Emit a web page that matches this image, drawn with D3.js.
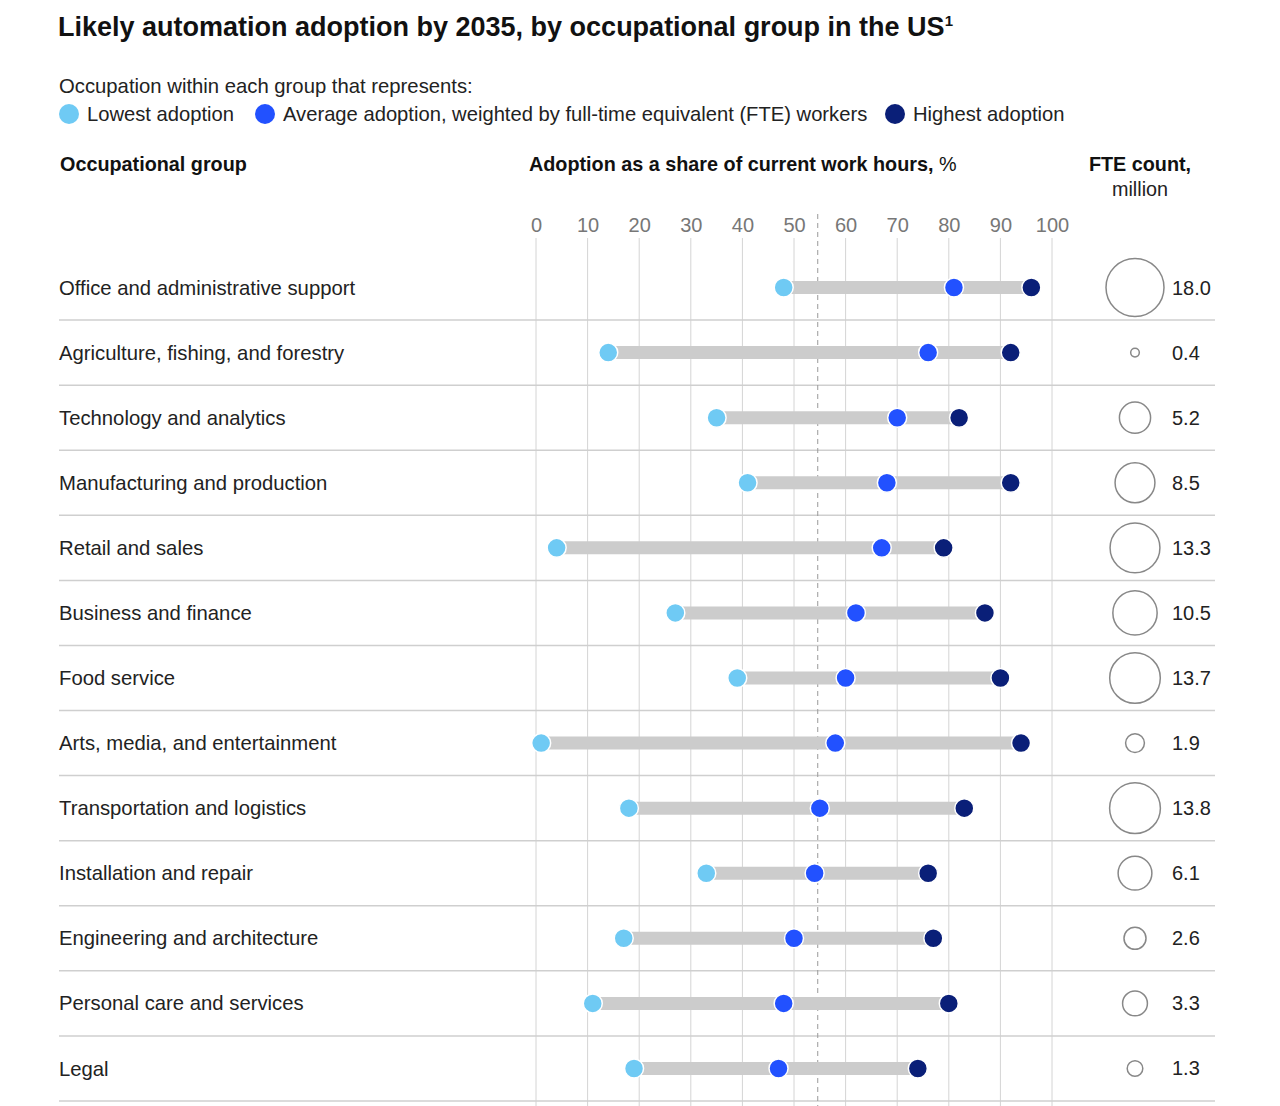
<!DOCTYPE html>
<html>
<head>
<meta charset="utf-8">
<script src="https://cdn.jsdelivr.net/npm/d3@7"></script>
<style>
  body { margin: 0; background: #fff; }
  svg { font-family: "Liberation Sans", Arial, sans-serif; }
  .tick text { fill: #777; font-size: 20px; }
</style>
</head>
<body>
<svg width="1280" height="1106"></svg>
<script>
// data
var groups = [
  'Office and administrative support',
  'Agriculture, fishing, and forestry',
  'Technology and analytics',
  'Manufacturing and production',
  'Retail and sales',
  'Business and finance',
  'Food service',
  'Arts, media, and entertainment',
  'Transportation and logistics',
  'Installation and repair',
  'Engineering and architecture',
  'Personal care and services',
  'Legal'
];
var lowest  = [48, 14, 35, 41, 4, 27, 39, 1, 18, 33, 17, 11, 19];
var average = [81, 76, 70, 68, 67, 62, 60, 58, 55, 54, 50, 48, 47];
var highest = [96, 92, 82, 92, 79, 87, 90, 94, 83, 76, 77, 80, 74];
var fte     = [18.0, 0.4, 5.2, 8.5, 13.3, 10.5, 13.7, 1.9, 13.8, 6.1, 2.6, 3.3, 1.3];
var overallAvg = 54.6;
var xTicks = [0, 10, 20, 30, 40, 50, 60, 70, 80, 90, 100];

var colLow = '#6fcaf4', colAvg = '#2251ff', colHigh = '#0a1f78';

var svg = d3.select('svg');

var rows = groups.map(function(g, i) {
  return {name: g, low: lowest[i], avg: average[i], high: highest[i], fte: fte[i]};
});

var xScale = d3.scaleLinear().domain([0, 100]).range([536, 1052]);
var yScale = d3.scaleBand().domain(groups).range([255, 1101]);
var rScale = d3.scaleSqrt().domain([0, 18]).range([0, 29]);

// title
var title = svg.append('text')
  .attr('x', 58).attr('y', 36)
  .style('font-size', '27px').style('font-weight', 'bold').style('fill', '#111')
  .text('Likely automation adoption by 2035, by occupational group in the US');
title.append('tspan').attr('dy', -10).style('font-size', '15px').text('1');

// legend
svg.append('text')
  .attr('x', 59).attr('y', 93)
  .style('font-size', '20.3px').style('fill', '#222')
  .text('Occupation within each group that represents:');

var legend = [
  {label: 'Lowest adoption', color: colLow, x: 69},
  {label: 'Average adoption, weighted by full-time equivalent (FTE) workers', color: colAvg, x: 265},
  {label: 'Highest adoption', color: colHigh, x: 895}
];
var lg = svg.selectAll('.legend')
  .data(legend)
  .enter()
  .append('g')
  .attr('class', 'legend');
lg.append('circle')
  .attr('cx', function(d) { return d.x; })
  .attr('cy', 114)
  .attr('r', 10)
  .style('fill', function(d) { return d.color; });
lg.append('text')
  .attr('x', function(d) { return d.x + 18; })
  .attr('y', 121)
  .style('font-size', '20.2px').style('fill', '#222')
  .text(function(d) { return d.label; });

// column headers
svg.append('text')
  .attr('x', 60).attr('y', 171)
  .style('font-size', '19.8px').style('font-weight', 'bold').style('fill', '#111')
  .text('Occupational group');

var hdr = svg.append('text')
  .attr('x', 529).attr('y', 171)
  .style('font-size', '19.8px').style('fill', '#111');
hdr.append('tspan').style('font-weight', 'bold').text('Adoption as a share of current work hours,');
hdr.append('tspan').text(' %');

svg.append('text')
  .attr('x', 1140).attr('y', 171)
  .attr('text-anchor', 'middle')
  .style('font-size', '19.8px').style('font-weight', 'bold').style('fill', '#111')
  .text('FTE count,');
svg.append('text')
  .attr('x', 1140).attr('y', 196)
  .attr('text-anchor', 'middle')
  .style('font-size', '19.8px').style('fill', '#222')
  .text('million');

// x axis labels on top
var axis = svg.append('g')
  .attr('class', 'x axis')
  .attr('transform', 'translate(0,232)')
  .call(d3.axisTop(xScale).tickValues(xTicks).tickSize(0).tickPadding(0));
axis.select('.domain').remove();

// vertical gridlines
svg.selectAll('.grid')
  .data(xTicks)
  .enter()
  .append('line')
  .attr('class', 'grid')
  .attr('x1', function(d) { return xScale(d); })
  .attr('x2', function(d) { return xScale(d); })
  .attr('y1', 238)
  .attr('y2', 1106)
  .style('stroke', '#d4d4d4')
  .style('stroke-width', 1);

// row separators
svg.selectAll('.sep')
  .data(groups)
  .enter()
  .append('line')
  .attr('class', 'sep')
  .attr('x1', 59).attr('x2', 1215)
  .attr('y1', function(d) { return yScale(d) + yScale.bandwidth(); })
  .attr('y2', function(d) { return yScale(d) + yScale.bandwidth(); })
  .style('stroke', '#cfcfcf')
  .style('stroke-width', 1.5);

// overall average dashed line
svg.append('line')
  .attr('x1', xScale(overallAvg)).attr('x2', xScale(overallAvg))
  .attr('y1', 214).attr('y2', 1106)
  .style('stroke', '#9a9a9a')
  .style('stroke-width', 1)
  .style('stroke-dasharray', '5,4');

var cy = function(d) { return yScale(d.name) + yScale.bandwidth() / 2; };

// row labels
svg.selectAll('.row-label')
  .data(rows)
  .enter()
  .append('text')
  .attr('class', 'row-label')
  .attr('x', 59)
  .attr('y', cy)
  .attr('dy', '0.35em')
  .style('font-size', '20.3px').style('fill', '#222')
  .text(function(d) { return d.name; });

// range bars
svg.selectAll('.range')
  .data(rows)
  .enter()
  .append('line')
  .attr('class', 'range')
  .attr('x1', function(d) { return xScale(d.low); })
  .attr('x2', function(d) { return xScale(d.high); })
  .attr('y1', cy).attr('y2', cy)
  .style('stroke', '#cccccc')
  .style('stroke-width', 13);

// dots
[['low', colLow], ['avg', colAvg], ['high', colHigh]].forEach(function(k) {
  svg.selectAll('.dot-' + k[0])
    .data(rows)
    .enter()
    .append('circle')
    .attr('class', 'dot-' + k[0])
    .attr('cx', function(d) { return xScale(d[k[0]]); })
    .attr('cy', cy)
    .attr('r', 9.5)
    .style('fill', k[1])
    .style('stroke', '#fff')
    .style('stroke-width', 1.5);
});

// FTE bubbles
svg.selectAll('.fte')
  .data(rows)
  .enter()
  .append('circle')
  .attr('class', 'fte')
  .attr('cx', 1135)
  .attr('cy', cy)
  .attr('r', function(d) { return rScale(d.fte); })
  .style('fill', 'none')
  .style('stroke', '#888')
  .style('stroke-width', 1.5);

svg.selectAll('.fte-label')
  .data(rows)
  .enter()
  .append('text')
  .attr('class', 'fte-label')
  .attr('x', 1172)
  .attr('y', cy)
  .attr('dy', '0.35em')
  .style('font-size', '20px').style('fill', '#222')
  .text(function(d) { return d.fte.toFixed(1); });
</script>
</body>
</html>
